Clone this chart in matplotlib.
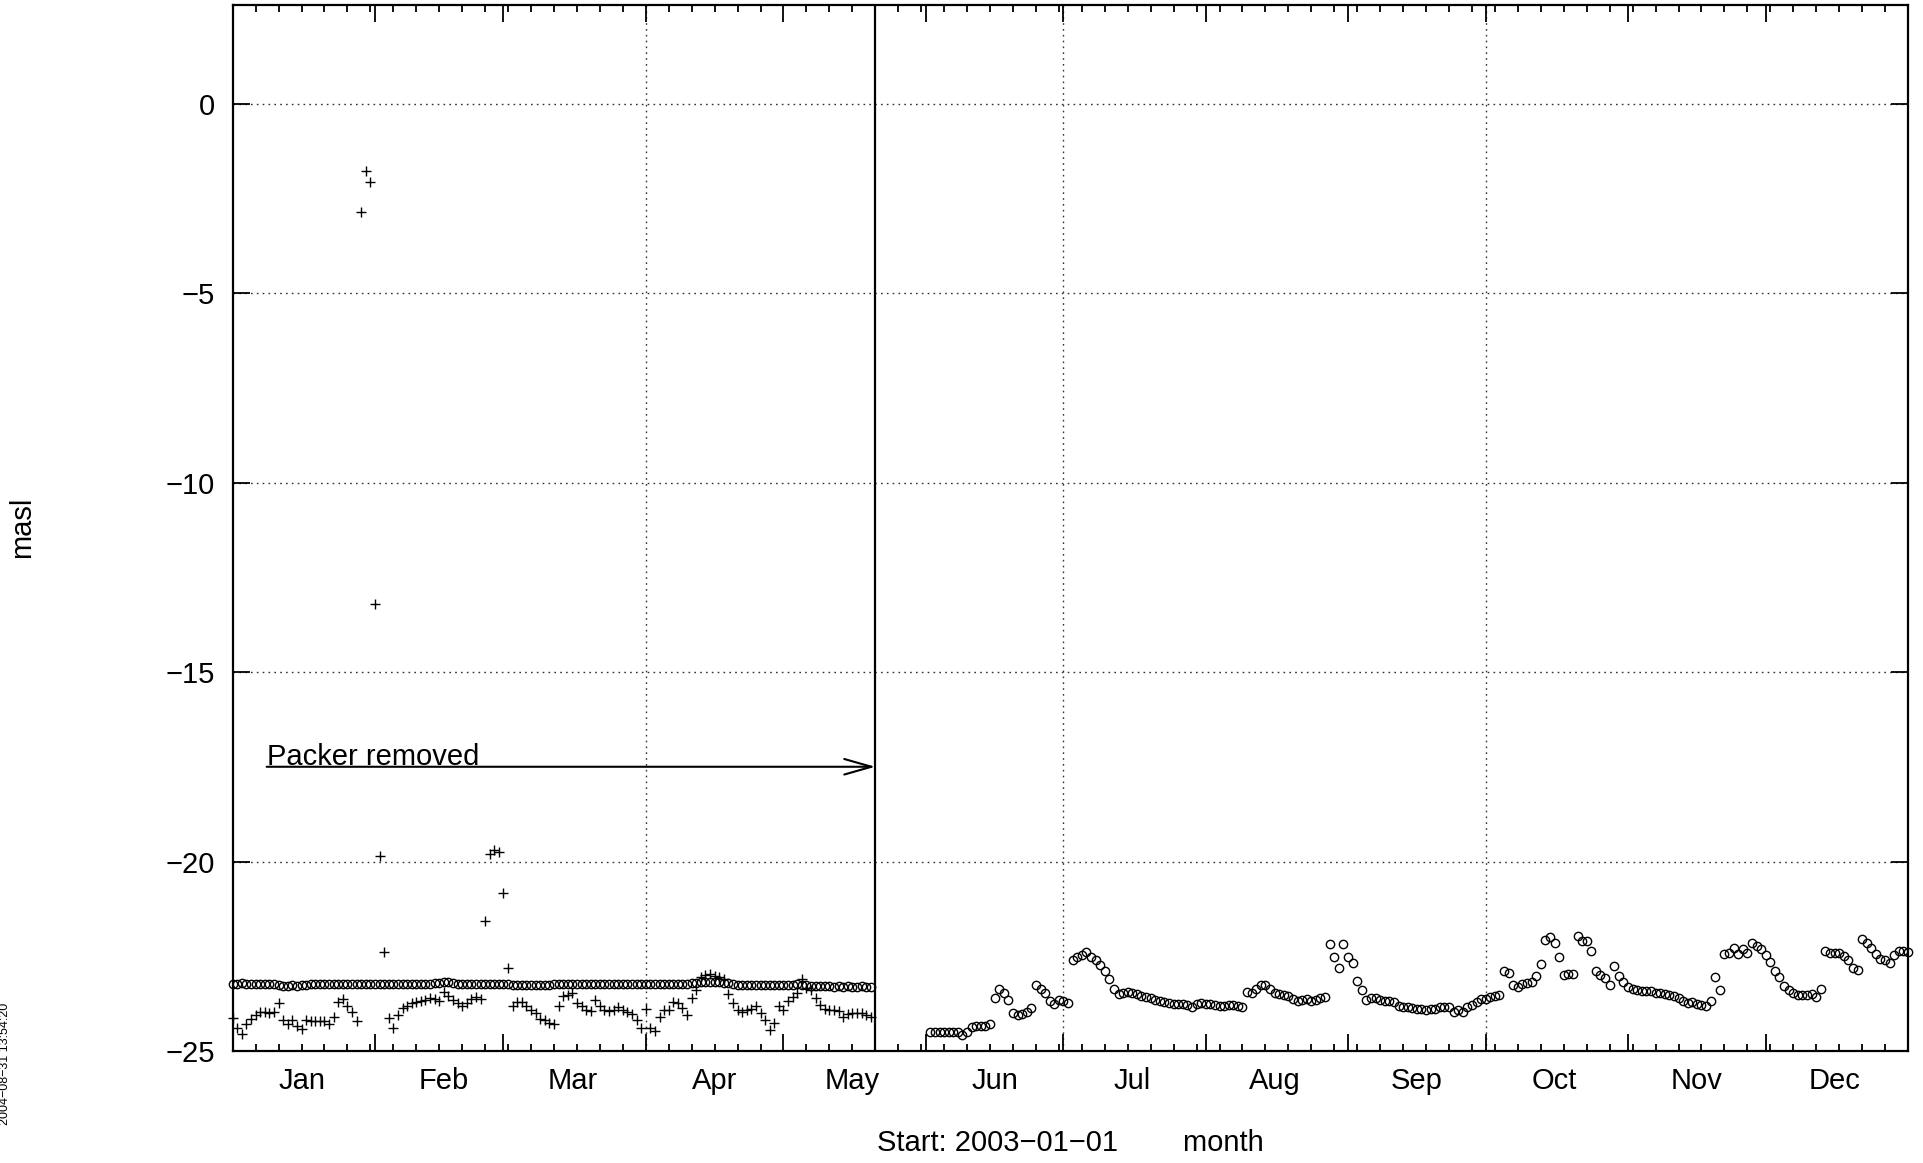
import matplotlib
matplotlib.use('Agg')
import matplotlib.pyplot as plt
import numpy as np

plt.rcParams['font.family'] = ['Liberation Sans', 'DejaVu Sans']

# day of year 2003 (0 = Jan 1)
month_names = ['Jan', 'Feb', 'Mar', 'Apr', 'May', 'Jun',
               'Jul', 'Aug', 'Sep', 'Oct', 'Nov', 'Dec']
month_starts = [0, 31, 59, 90, 120, 151, 181, 212, 243, 273, 304, 334, 365]
quarter_starts = [90, 181, 273]
packer_day = 140

# sensor 1 (crosses), Jan 1 - May 20
plus_vals = [
    -24.13, -24.40, -24.55, -24.28, -24.15, -24.05, -23.97, -23.96, -23.99, -23.96,
    -23.73, -24.17, -24.28, -24.17, -24.35, -24.43, -24.17, -24.20, -24.20, -24.20,
    -24.20, -24.28, -24.10, -23.70, -23.62, -23.82, -23.98, -24.20, -2.85, -1.78,
    -2.07, -13.21, -19.85, -22.38, -24.13, -24.39, -24.04, -23.87, -23.80, -23.73,
    -23.72, -23.69, -23.65, -23.60, -23.64, -23.69, -23.43, -23.56, -23.65, -23.73,
    -23.82, -23.73, -23.62, -23.57, -23.62, -21.57, -19.80, -19.70, -19.75, -20.82,
    -22.80, -23.82, -23.72, -23.72, -23.82, -23.93, -24.00, -24.16, -24.18, -24.25,
    -24.30, -23.82, -23.56, -23.51, -23.47, -23.73, -23.82, -23.91, -23.95, -23.66,
    -23.82, -23.91, -23.95, -23.91, -23.84, -23.91, -23.98, -24.02, -24.17, -24.39,
    -23.89, -24.39, -24.46, -24.10, -23.93, -23.93, -23.72, -23.74, -23.86, -24.05,
    -23.60, -23.38, -23.05, -23.00, -22.98, -23.02, -23.05, -23.10, -23.49, -23.73,
    -23.91, -23.98, -23.93, -23.88, -23.82, -24.00, -24.17, -24.44, -24.26, -23.82,
    -23.91, -23.69, -23.58, -23.47, -23.10, -23.34, -23.40, -23.60, -23.78, -23.89,
    -23.93, -23.92, -23.95, -24.09, -24.02, -24.00, -24.00, -24.00, -24.06, -24.09,
]
plus_days = np.arange(len(plus_vals))

# sensor 2 (circles) before packer removal
circ_left_vals = [
    -23.22, -23.22, -23.21, -23.22, -23.22, -23.23, -23.22, -23.22, -23.23, -23.24,
    -23.27, -23.28, -23.28, -23.27, -23.28, -23.27, -23.26, -23.23, -23.23, -23.23,
    -23.22, -23.23, -23.23, -23.22, -23.23, -23.23, -23.22, -23.23, -23.23, -23.22,
    -23.22, -23.23, -23.23, -23.22, -23.22, -23.23, -23.22, -23.23, -23.23, -23.22,
    -23.22, -23.23, -23.22, -23.22, -23.21, -23.20, -23.17, -23.18, -23.21, -23.22,
    -23.22, -23.23, -23.22, -23.22, -23.22, -23.23, -23.22, -23.22, -23.22, -23.23,
    -23.22, -23.25, -23.25, -23.26, -23.25, -23.25, -23.25, -23.26, -23.25, -23.25,
    -23.24, -23.24, -23.23, -23.23, -23.23, -23.22, -23.23, -23.23, -23.22, -23.23,
    -23.23, -23.23, -23.22, -23.23, -23.23, -23.23, -23.22, -23.23, -23.23, -23.24,
    -23.23, -23.23, -23.24, -23.23, -23.23, -23.23, -23.24, -23.23, -23.22, -23.22,
    -23.20, -23.20, -23.19, -23.17, -23.17, -23.17, -23.18, -23.20, -23.21, -23.24,
    -23.25, -23.25, -23.25, -23.26, -23.25, -23.25, -23.25, -23.26, -23.25, -23.25,
    -23.25, -23.26, -23.25, -23.24, -23.25, -23.27, -23.28, -23.28, -23.29, -23.28,
    -23.29, -23.30, -23.29, -23.30, -23.29, -23.30, -23.30, -23.29, -23.30, -23.30,
]
circ_left_days = np.arange(len(circ_left_vals))

# sensor 2 (circles) after packer removal, from Jun 2
circ_right_vals = [
    -24.51, -24.51, -24.51, -24.51, -24.51, -24.51, -24.51, -24.57, -24.49, -24.37,
    -24.35, -24.33, -24.33, -24.28, -23.61, -23.37, -23.47, -23.65, -24.00, -24.05,
    -24.03, -23.96, -23.87, -23.25, -23.37, -23.46, -23.69, -23.76, -23.65, -23.69,
    -23.74, -22.59, -22.51, -22.46, -22.40, -22.52, -22.61, -22.73, -22.90, -23.10,
    -23.37, -23.49, -23.46, -23.43, -23.46, -23.49, -23.54, -23.58, -23.60, -23.65,
    -23.69, -23.71, -23.73, -23.75, -23.76, -23.76, -23.78, -23.84, -23.76, -23.74,
    -23.76, -23.76, -23.78, -23.81, -23.82, -23.78, -23.78, -23.81, -23.83, -23.43,
    -23.46, -23.37, -23.25, -23.25, -23.37, -23.47, -23.49, -23.52, -23.56, -23.63,
    -23.67, -23.65, -23.63, -23.69, -23.65, -23.61, -23.58, -22.18, -22.52, -22.81,
    -22.18, -22.52, -22.68, -23.14, -23.39, -23.65, -23.61, -23.61, -23.65, -23.67,
    -23.67, -23.72, -23.81, -23.84, -23.84, -23.87, -23.89, -23.90, -23.91, -23.90,
    -23.88, -23.84, -23.83, -23.84, -23.98, -23.91, -23.98, -23.84, -23.78, -23.72,
    -23.63, -23.63, -23.58, -23.55, -23.52, -22.90, -22.93, -23.25, -23.32, -23.23,
    -23.21, -23.17, -23.02, -22.70, -22.07, -21.98, -22.14, -22.52, -22.99, -22.96,
    -22.96, -21.96, -22.11, -22.11, -22.37, -22.90, -22.99, -23.08, -23.25, -22.75,
    -23.02, -23.19, -23.32, -23.37, -23.40, -23.42, -23.42, -23.42, -23.46, -23.46,
    -23.49, -23.52, -23.56, -23.60, -23.67, -23.74, -23.72, -23.76, -23.78, -23.81,
    -23.69, -23.05, -23.39, -22.44, -22.42, -22.29, -22.44, -22.31, -22.42, -22.14,
    -22.24, -22.31, -22.46, -22.66, -22.88, -23.05, -23.28, -23.40, -23.47, -23.52,
    -23.52, -23.52, -23.49, -23.58, -23.37, -22.35, -22.42, -22.42, -22.42, -22.49,
    -22.59, -22.81, -22.86, -22.05, -22.15, -22.29, -22.44, -22.58, -22.59, -22.68,
    -22.46, -22.35, -22.37, -22.40,
]
circ_right_days = 152 + np.arange(len(circ_right_vals))

fs = 21
fig = plt.figure(figsize=(19.23, 11.63), dpi=100)
ax = fig.add_axes([0.1210, 0.0963, 0.8712, 0.8994])

ax.plot(circ_left_days, circ_left_vals, ls='none', marker='o', ms=6, mew=1.0,
        mfc='none', mec='black', clip_on=False, zorder=3)
ax.plot(circ_right_days, circ_right_vals, ls='none', marker='o', ms=6, mew=1.0,
        mfc='none', mec='black', clip_on=False, zorder=3)
ax.plot(plus_days, plus_vals, ls='none', marker='+', ms=6.5, mew=1.0,
        color='black', clip_on=False, zorder=3)

ax.set_xlim(0, 365)
ax.set_ylim(-25, 2.6)

# ticks
ax.set_yticks(np.arange(-25, 1, 5))
ax.set_xticks(month_starts)
ax.set_xticks(np.arange(0, 366, 5), minor=True)
ax.tick_params(axis='both', which='major', direction='in', length=12, width=1.3,
               top=True, right=True, labelsize=fs, pad=13)
ax.tick_params(axis='x', which='major', labelbottom=False)
ax.tick_params(axis='x', which='minor', direction='in', length=5, width=1.3,
               top=True, bottom=True)
for s in ax.spines.values():
    s.set_linewidth(1.6)

# month names sit 15 days after each month start
for name, a in zip(month_names, month_starts[:-1]):
    ax.text(a + 15, -0.0282, name, transform=ax.get_xaxis_transform(),
            ha='center', va='center', fontsize=fs)

# dotted grid
dots = (0, (1.2, 3))
for y in np.arange(-20, 1, 5):
    ax.axhline(y, color='#333333', lw=1.0, ls=dots, zorder=1)
for x in quarter_starts:
    ax.axvline(x, color='#333333', lw=1.0, ls=dots, zorder=1)

# packer removal marker
ax.axvline(packer_day, color='black', lw=1.6, zorder=2)
ax.annotate('', xy=(packer_day, -17.5), xytext=(7.4, -17.5),
            arrowprops=dict(arrowstyle='->,head_length=1.4,head_width=0.4',
                            lw=1.5, color='black', shrinkA=0, shrinkB=0,
                            mutation_scale=14))
ax.text(7.4, -17.45, 'Packer removed', fontsize=fs, ha='left', va='baseline')

ax.text(0.5, -0.088, 'Start: 2003\u221201\u221201        month', transform=ax.transAxes,
        ha='center', va='center', fontsize=fs)
fig.text(22 / 1923, 0.5464, 'masl', rotation=90, ha='center', va='center', fontsize=fs)
fig.text(0.0025, 1 - 1064 / 1163, '2004\u221208\u221231 13:54:20', rotation=90,
         ha='center', va='center', fontsize=9)

fig.savefig('out.png', dpi=100)
